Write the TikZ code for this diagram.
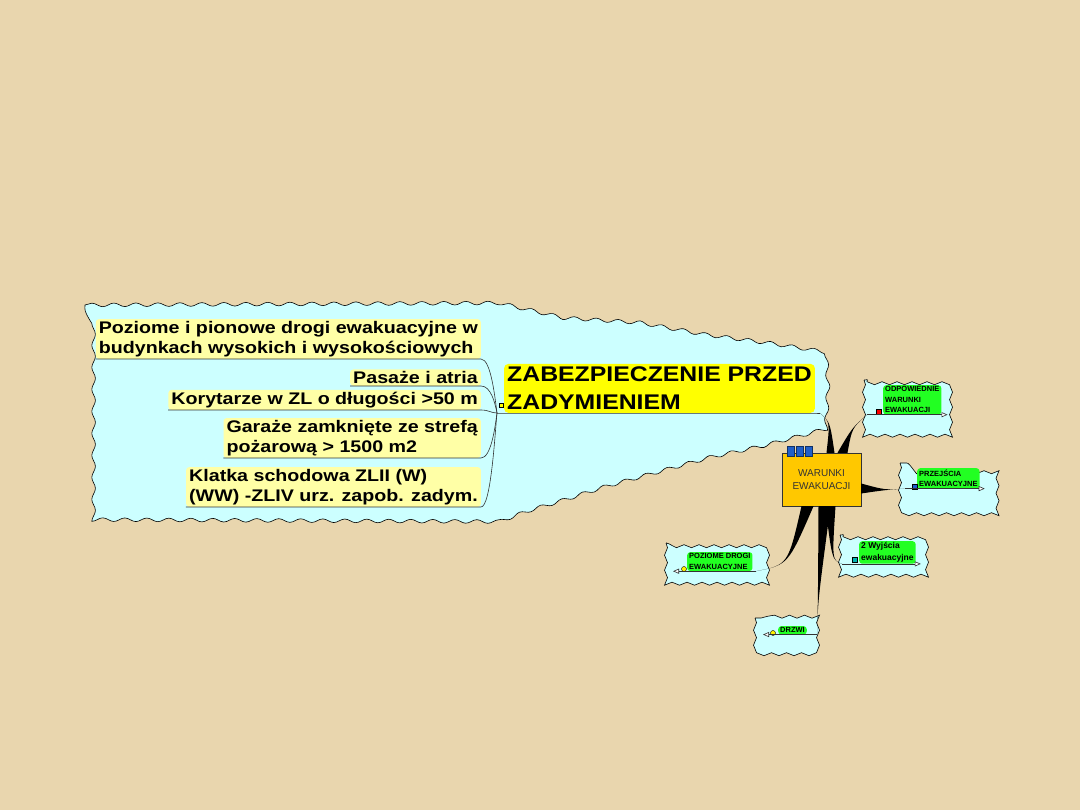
\documentclass[tikz,border=0pt]{standalone}
\usepackage{fontspec}
\setmainfont{Liberation Sans}
\newfontfamily\szeroki{Liberation Sans}[FakeStretch=1.17]
\usepackage{tikz}
\usetikzlibrary{arrows.meta,positioning,calc,decorations.pathmorphing}
\definecolor{pergamin}{HTML}{E9D6AE}
\definecolor{blekit}{HTML}{CCFFFF}
\definecolor{zolty}{HTML}{FFFF00}
\definecolor{jasnyzolty}{HTML}{FFFFA6}
\definecolor{pomarancz}{HTML}{FFC800}
\definecolor{zielony}{HTML}{22FF22}
\definecolor{grafit}{HTML}{333333}
\definecolor{niebieski}{HTML}{1F5FC8}
\tikzset{
  chmura/.style={draw=black,fill=blekit,line width=0.6pt,decorate,
    decoration={snake,amplitude=1.5pt,segment length=15pt}},
  wielkachmura/.style={chmura,decoration={snake,amplitude=1.8pt,segment length=22pt}},
  temat/.style={fill=jasnyzolty,rounded corners=3pt,align=left,inner xsep=3pt,inner ysep=2pt,
    font=\szeroki\bfseries\fontsize{16.8}{20}\selectfont},
  glowny/.style={fill=zolty,rounded corners=4pt,align=left,inner xsep=3pt,inner ysep=3pt,
    font=\szeroki\bfseries\fontsize{21.2}{28}\selectfont},
  centrum/.style={draw=grafit,fill=pomarancz,minimum width=79pt,minimum height=53pt,
    align=center,font=\fontsize{10}{13}\selectfont,text=grafit},
  zakladka/.style={draw=niebieski!50!black,fill=niebieski,minimum width=7pt,
    minimum height=10pt,inner sep=0pt},
  lisc/.style={fill=zielony,rounded corners=3pt,align=left,inner xsep=2pt,inner ysep=1.5pt,
    font=\bfseries\fontsize{7.5}{10.5}\selectfont},
  galaz/.style={draw=black!80,line width=0.6pt},
  klin/.style={fill=black},
  podkresl/.style={draw=black!80,line width=0.6pt,
    -{Triangle[open,fill=white,length=6pt,width=5pt]}},
  znacznik/.style={draw=black,minimum size=5pt,inner sep=0pt}
}

\begin{document}
\begin{tikzpicture}[x=1pt,y=-1pt]
\useasboundingbox (0,0) rectangle (1080,810);
\fill[pergamin] (0,0) rectangle (1080,810);

% tla galezi
\draw[wielkachmura] (85,305) -- (495,303) -- (560,318) -- (640,323) -- (700,334) -- (760,342)
  -- (823,352) -- (825,385) -- (823,423) -- (760,440) -- (700,453) -- (650,467)
  -- (600,481) -- (560,494) -- (520,506) -- (490,517) -- (85,515) -- cycle;
\draw[chmura] (864,380) rectangle (958,430);
\draw[chmura] (900,463) rectangle (1000,506);
\draw[chmura] (840,535) rectangle (929,575);
\draw[chmura] (666,543) rectangle (766,583);
\draw[chmura] (755,618) rectangle (817,650);

% lewa strona
\node[temat,anchor=south east] (poziome) at (481,359) {Poziome i pionowe drogi ewakuacyjne w\\budynkach wysokich i wysokościowych};
\node[temat,anchor=south east] (pasaze) at (481,386) {Pasaże i atria};
\node[temat,anchor=south east] (korytarze) at (481,410) {Korytarze w ZL o długości >50 m};
\node[temat,anchor=south east] (garaze) at (481,458) {Garaże zamknięte ze strefą\\pożarową > 1500 m2};
\node[temat,anchor=south east] (klatka) at (481,507) {Klatka schodowa ZLII (W)\\(WW) -ZLIV urz. zapob. zadym.};

\coordinate (wezel) at (497,413);
\node[glowny,anchor=south west] (zadym) at (504,413) {ZABEZPIECZENIE PRZED\\ZADYMIENIEM};
\node[znacznik,fill=zolty,minimum size=4pt] (zwin) at (501,405) {};

\draw[galaz] (poziome.south west) -- (poziome.south east) .. controls +(10,0) and +(-2,-15) .. (wezel);
\draw[galaz] (pasaze.south west) -- (pasaze.south east) .. controls +(10,0) and +(-2,-10) .. (wezel);
\draw[galaz] (korytarze.south west) -- (korytarze.south east) .. controls +(8,0) and +(-6,0) .. (wezel);
\draw[galaz] (garaze.south west) -- (garaze.south east) .. controls +(10,0) and +(-2,15) .. (wezel);
\draw[galaz] (klatka.south west) -- (klatka.south east) .. controls +(10,0) and +(-2,20) .. (wezel);
\draw[galaz] (wezel) -- (zadym.south east) -- ++(5,0) coordinate (zkoniec);

% srodek
\node[centrum] (warunki) at (821.5,479.5) {WARUNKI\\EWAKUACJI};
\foreach \i in {0,1,2}
  \node[zakladka,anchor=south west] (zakladka\i) at ($(warunki.north west)+(5+9*\i,4)$) {};

% liscie
\node[lisc,anchor=north west] (odpowiednie) at (883,385) {ODPOWIEDNIE\\WARUNKI\\EWAKUACJI};
\node[lisc,anchor=north west] (przejscia) at (917,468) {PRZEJŚCIA\\EWAKUACYJNE};
\node[lisc,anchor=north west,font=\bfseries\fontsize{8.5}{11.5}\selectfont] (wyjscia) at (859,541) {2 Wyjścia\\ewakuacyjne};
\node[lisc,anchor=north west] (poziomedrogi) at (687,552) {POZIOME DROGI\\EWAKUACYJNE};
\node[lisc,anchor=north west] (drzwi) at (778,626) {DRZWI};

\node[znacznik,fill=red] (m1) at (879,412) {};
\node[znacznik,fill=niebieski] (m2) at (915,487) {};
\node[znacznik,fill=teal!60!cyan] (m3) at (855,560) {};
\node[znacznik,circle,fill=yellow] (m4) at (684,569) {};
\node[znacznik,circle,fill=yellow] (m5) at (773,633) {};

% galezie
\coordinate (k1) at ($(odpowiednie.south west)+(-16,0)$);
\coordinate (k2) at ($(przejscia.south west)+(-12,0)$);
\coordinate (k3) at ($(wyjscia.south west)+(-17,0)$);
\coordinate (k4) at ($(poziomedrogi.south east)+(3,0)$);
\coordinate (k5) at ($(drzwi.south east)+(10,0)$);

\fill[klin] ($(warunki.north)+(5,0)$) .. controls (830,422) .. (zkoniec)
  .. controls (830,422) .. ($(warunki.north)+(13,0)$) -- cycle;
\fill[klin] ($(warunki.north)+(16,0)$) .. controls (852,428) .. (k1)
  .. controls (852,428) .. ($(warunki.north)+(26,0)$) -- cycle;
\fill[klin] ($(warunki.east)+(0,4)$) .. controls (885,490) .. (k2)
  .. controls (885,490) .. ($(warunki.east)+(0,14)$) -- cycle;
\fill[klin] ($(warunki.south)+(4,0)$) .. controls (832,560) .. (k3)
  .. controls (832,560) .. ($(warunki.south)+(14,0)$) -- cycle;
\fill[klin] ($(warunki.south)+(-20,0)$) .. controls (788,565) .. (k4)
  .. controls (788,565) .. ($(warunki.south)+(-8,0)$) -- cycle;
\fill[klin] ($(warunki.south)+(-3,0)$) .. controls (818,600) .. (k5)
  .. controls (818,600) .. ($(warunki.south)+(9,0)$) -- cycle;

\draw[podkresl] (k1) -- ($(odpowiednie.south east)+(6,0)$);
\draw[podkresl] (k2) -- ($(przejscia.south east)+(5,0)$);
\draw[podkresl] (k3) -- ($(wyjscia.south east)+(5,0)$);
\draw[podkresl] (k4) -- ($(poziomedrogi.south west)+(-14,0)$);
\draw[podkresl] (k5) -- ($(drzwi.south west)+(-15,0)$);
\end{tikzpicture}
\end{document}
